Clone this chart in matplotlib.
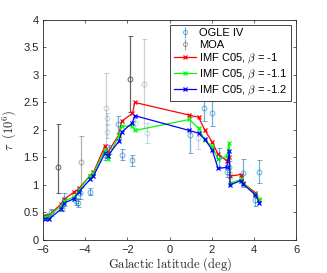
import matplotlib
matplotlib.use("Agg")
import matplotlib.pyplot as plt
import numpy as np

plt.rcParams['mathtext.fontset'] = 'cm'
plt.rcParams['font.family'] = ['Liberation Sans', 'DejaVu Sans']

# Model latitudes (deg) and optical depths (10^6)
model_b = [-5.90, -5.72, -5.15, -5.00, -4.53, -4.29, -3.77, -3.61, -3.06, -2.93,
           -2.41, -2.27, -1.76, -1.65, 0.94, 1.38, 1.67, 2.02, 2.30, 2.71,
           2.83, 2.87, 3.38, 3.50, 4.07, 4.26]
tau_b10 = [0.44, 0.45, 0.65, 0.74, 0.87, 0.94, 1.17, 1.23, 1.71, 1.59,
           1.91, 2.16, 2.30, 2.50, 2.27, 2.23, 2.00, 1.78, 1.56, 1.44,
           1.50, 1.16, 1.19, 1.03, 0.86, 0.73]
tau_b11 = [0.42, 0.44, 0.61, 0.71, 0.78, 0.91, 1.17, 1.21, 1.64, 1.47,
           1.89, 2.07, 2.07, 1.99, 2.19, 2.03, 1.82, 1.70, 1.47, 1.52,
           1.77, 1.03, 1.10, 1.03, 0.83, 0.74]
tau_b12 = [0.39, 0.38, 0.56, 0.67, 0.75, 0.88, 1.10, 1.16, 1.58, 1.53,
           1.79, 1.96, 2.13, 2.26, 1.99, 1.94, 1.83, 1.64, 1.30, 1.32,
           1.61, 1.00, 1.08, 1.01, 0.82, 0.67]

# OGLE IV measurements
ogle_b = [-5.85, -5.64, -5.10, -5.00, -4.42, -4.34, -4.26, -3.78, -3.06, -2.95,
          -2.95, -2.85, -2.43, -2.27, -1.80, -1.64, -1.05, 0.97, 1.37, 1.65,
          2.03, 2.33, 2.71, 2.80, 3.50, 4.06, 4.24]
ogle_tau = [0.42, 0.50, 0.58, 0.73, 0.70, 0.67, 0.85, 0.88, 1.55, 1.97,
            2.21, 1.65, 2.10, 1.55, 1.45, 2.13, 1.94, 1.91, 1.86, 2.39,
            2.30, 1.50, 1.24, 1.33, 1.22, 0.72, 1.24]
ogle_err = [0.05, 0.07, 0.05, 0.12, 0.06, 0.07, 0.10, 0.06, 0.10, 0.12,
            0.10, 0.08, 0.15, 0.10, 0.10, 0.10, 0.18, 0.32, 0.20, 0.23,
            0.23, 0.17, 0.10, 0.10, 0.26, 0.10, 0.21]
ogle_alpha = [0.8, 0.8, 0.8, 0.8, 0.8, 0.8, 0.8, 0.8, 0.8, 0.35,
              0.35, 0.8, 0.8, 0.8, 0.8, 0.35, 0.35, 0.8, 0.35, 0.8,
              0.8, 0.8, 0.8, 0.8, 0.8, 0.8, 0.8]

# MOA measurements
moa_b = [-5.27, -4.21, -3.00, -1.87, -1.19]
moa_tau = [1.33, 1.41, 2.40, 2.93, 2.84]
moa_lo = [0.47, 0.45, 0.65, 0.60, 0.80]
moa_hi = [0.77, 0.48, 0.64, 0.77, 0.81]
moa_alpha = [0.8, 0.4, 0.25, 0.8, 0.25]

xticks = [-6, -4, -2, 0, 2, 4, 6]
yticks = [0, 0.5, 1, 1.5, 2, 2.5, 3, 3.5, 4]
ytick_labels = ['0', '0.5', '1', '1.5', '2', '2.5', '3', '3.5', '4']

fig = plt.figure(figsize=(3.27, 2.73), dpi=100)
ax = fig.add_axes([0.1315, 0.121, 0.774, 0.806])

ogle_col = (0.0, 0.447, 0.741)
moa_col = (0.25, 0.25, 0.25)

for b, t, e, a in zip(ogle_b, ogle_tau, ogle_err, ogle_alpha):
    ax.errorbar([b], [t], yerr=[e], fmt='o', mfc='none', mec=ogle_col, ecolor=ogle_col,
                ms=3.5, mew=0.7, elinewidth=0.9, capsize=1.8, capthick=0.7, alpha=a * 0.7)
for b, t, lo, hi, a in zip(moa_b, moa_tau, moa_lo, moa_hi, moa_alpha):
    ax.errorbar([b], [t], yerr=[[lo], [hi]], fmt='o', mfc='none', mec=moa_col, ecolor=moa_col,
                ms=3.5, mew=0.7, elinewidth=0.9, capsize=1.8, capthick=0.7, alpha=a)

ax.plot(model_b, tau_b10, '-x', color=(1, 0, 0), lw=0.9, ms=2.5, mew=0.9)
ax.plot(model_b, tau_b11, '-x', color=(0, 1, 0), lw=0.9, ms=2.5, mew=0.9)
ax.plot(model_b, tau_b12, '-x', color=(0, 0, 1), lw=0.9, ms=2.5, mew=0.9)

# legend proxies
h_ogle = ax.errorbar([], [], yerr=[], fmt='o', mfc='none', mec=ogle_col, ecolor=ogle_col,
                     ms=3, mew=0.6, elinewidth=0.8, capsize=1.5, alpha=0.6)
h_moa = ax.errorbar([], [], yerr=[], fmt='o', mfc='none', mec=moa_col, ecolor=moa_col,
                    ms=3, mew=0.6, elinewidth=0.8, capsize=1.5, alpha=0.5)
h1, = ax.plot([], [], '-x', color=(1, 0, 0), lw=0.9, ms=2.5, mew=0.9)
h2, = ax.plot([], [], '-x', color=(0, 1, 0), lw=0.9, ms=2.5, mew=0.9)
h3, = ax.plot([], [], '-x', color=(0, 0, 1), lw=0.9, ms=2.5, mew=0.9)
leg = ax.legend([h_ogle, h_moa, h1, h2, h3],
                ['OGLE IV', 'MOA', r'IMF C05, $\beta$ = -1', r'IMF C05, $\beta$ = -1.1',
                 r'IMF C05, $\beta$ = -1.2'],
                loc='upper right', bbox_to_anchor=(0.98, 0.977), borderaxespad=0,
                fontsize=8, fancybox=False, framealpha=1, edgecolor='#262626',
                handlelength=2.0, handletextpad=0.3, labelspacing=0.15, borderpad=0.3)
leg.get_frame().set_linewidth(0.6)

ax.set_xlim(-6, 6)
ax.set_ylim(0, 4)
ax.set_xticks(xticks)
ax.set_yticks(yticks)
ax.set_yticklabels(ytick_labels)
ax.tick_params(direction='in', length=2.5, width=0.5, top=True, right=True,
               labelsize=8, colors='#262626')
ax.tick_params(axis='x', pad=3.5)
ax.tick_params(axis='y', pad=3)
for s in ax.spines.values():
    s.set_linewidth(0.6)
    s.set_color('#262626')

ax.set_xlabel(r'$\mathrm{Galactic\ latitude\ (deg)}$', fontsize=9, color='#262626', labelpad=0)
ax.set_ylabel(r'$\tau\ \ (10^6)$', fontsize=9, color='#262626', labelpad=4)

fig.savefig('out.png', dpi=100)
